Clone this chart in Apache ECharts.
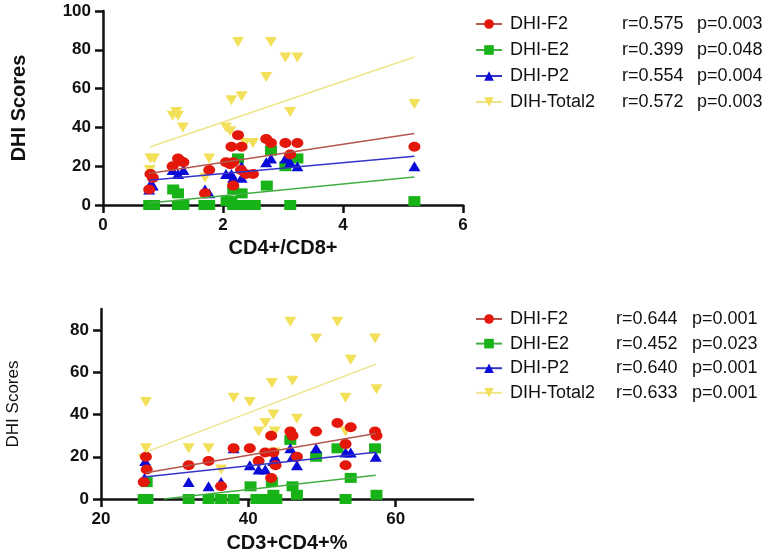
<!DOCTYPE html>
<html>
<head>
<meta charset="utf-8">
<script src="https://cdn.jsdelivr.net/npm/echarts@6/dist/echarts.min.js"></script>
<style>
  html, body { margin: 0; padding: 0; background: #fff; }
  #main { width: 767px; height: 554px; }
</style>
</head>
<body>
<div id="main"></div>
<script>
// legend names and stats
const names = ['DHI-F2', 'DHI-E2', 'DHI-P2', 'DIH-Total2'];
const topR = ['0.575', '0.399', '0.554', '0.572'];
const topP = ['0.003', '0.048', '0.004', '0.003'];
const botR = ['0.644', '0.452', '0.640', '0.633'];
const botP = ['0.001', '0.023', '0.001', '0.001'];

// tick labels
const topXTicks = [0, 2, 4, 6];
const topYTicks = [0, 20, 40, 60, 80, 100];
const botXTicks = [20, 40, 60];
const botYTicks = [0, 20, 40, 60, 80];

// top panel: CD4+/CD8+
const topF2 = [[0.77,8],[0.79,16],[0.83,14],[1.16,20],[1.25,24],[1.3,22.5],[1.34,22],[1.7,6],[1.77,18],[2.05,22],[2.12,21],[2.17,22],[2.14,30],[2.17,10],[2.25,36],[2.31,30],[2.3,18],[2.38,16],[2.5,16],[2.72,34],[2.8,32],[3.04,32],[3.12,26],[3.24,32],[5.19,30]];
const topE2 = [[0.77,0],[0.85,0],[1.17,8],[1.25,6],[1.25,0],[1.34,0],[1.69,0],[1.77,0],[2.06,2],[2.14,2],[2.17,8],[2.17,0],[2.25,24],[2.25,0],[2.31,6],[2.37,0],[2.48,0],[2.53,0],[2.73,10],[2.8,28],[3.04,20],[3.12,0],[3.24,24],[5.19,2]];
const topP2 = [[0.77,8],[0.78,10],[0.83,10],[1.16,18],[1.25,16],[1.34,18],[1.7,8],[1.77,6],[2.05,16],[2.14,16],[2.17,14],[2.31,14],[2.31,20],[2.72,22],[2.8,24],[3.04,24],[3.12,22],[3.24,20],[5.19,20]];
const topTotal = [[0.78,18],[0.79,24],[0.85,24],[1.16,46],[1.22,48],[1.25,46],[1.33,40],[1.7,14],[1.77,24],[2.05,40],[2.12,38],[2.14,54],[2.25,84],[2.31,56],[2.37,32],[2.5,32],[2.72,66],[2.8,84],[3.04,76],[3.12,48],[3.24,76],[5.19,52]];
const topFitF2 = [[0.77,16.2],[5.19,36.8]];
const topFitE2 = [[0.77,1],[5.19,14.4]];
const topFitP2 = [[0.77,12.7],[5.19,25.1]];
const topFitTotal = [[0.78,29.9],[5.19,76.3]];

// bottom panel: CD3+CD4+%
const botF2 = [[25.8,8],[26.1,20],[26.2,14],[31.9,16],[34.6,18],[36.3,6],[38,24],[40.2,24],[41.4,18],[42.3,22],[43.4,22],[43.1,30],[43.1,10],[43.7,16],[45.7,32],[46,30],[46.6,20],[49.2,32],[52.1,36],[53.2,26],[53.2,16],[53.9,34],[57.2,32],[57.4,30]];
const botE2 = [[25.8,0],[26.3,0],[26.2,8],[31.9,0],[34.6,0],[36.3,0],[38,0],[40.3,6],[41.1,0],[41.7,0],[42.3,0],[43.1,0],[43.2,8],[43.4,2],[43.8,0],[45.7,28],[46,6],[46.6,2],[49.2,20],[52.1,24],[53.2,0],[53.9,10],[57.2,24],[57.4,2]];
const botP2 = [[26,18],[25.9,10],[31.9,8],[34.6,6],[36.3,8],[38,24],[40.2,16],[41.4,14],[42.3,14],[43.4,18],[43.6,20],[45.7,24],[46,20],[46.6,16],[49.2,24],[53.2,22],[53.9,22],[57.3,20]];
const botTotal = [[25.8,19],[26.1,24],[26.1,46],[31.9,24],[34.6,24],[36.3,14],[38,48],[40.2,46],[41.4,32],[42.3,36],[43.2,55],[43.4,40],[43.6,32],[43.6,22],[45.7,84],[46,56],[46.6,38],[49.2,76],[52.1,84],[53.2,48],[53.2,32],[53.9,66],[57.2,76],[57.4,52]];
const botFitF2 = [[26.1,12.4],[57.3,31]];
const botFitE2 = [[28.5,0],[57.3,11.2]];
const botFitP2 = [[25.8,10.4],[57.3,22.2]];
const botFitTotal = [[26.1,22.2],[57.3,63.9]];

const markColors = ['#e3170a', '#17b317', '#0b0bd9', '#f3e05a'];
const lineColors = ['#b4574e', '#44ad44', '#3434c8', '#eee48a'];
const downTri = 'path://M0,0L2,0L1,2Z';
const symbols = ['circle', 'rect', 'triangle', downTri];

const chart = echarts.init(document.getElementById('main'));

const labelFont = { fontFamily: 'Liberation Sans', fontWeight: 'bold', fontSize: 17, color: '#111' };
const axisLine = { show: true, onZero: false, lineStyle: { color: '#111', width: 2.5 } };
const axisTick = (vals) => ({ show: true, length: 8, customValues: vals, lineStyle: { color: '#111', width: 2.5 } });

function fitLine(name, data, i, grid) {
  return {
    type: 'line', name: name, data: data, xAxisIndex: grid, yAxisIndex: grid,
    showSymbol: false, symbol: symbols[i], symbolSize: 10, z: 4, silent: true,
    itemStyle: { color: markColors[i] },
    lineStyle: { color: lineColors[i], width: 1.5 }
  };
}
function dots(name, data, i, grid, z) {
  return {
    type: 'scatter', name: name, data: data, xAxisIndex: grid, yAxisIndex: grid,
    symbol: symbols[i], symbolSize: [12, 10], z: z, silent: true,
    itemStyle: { color: markColors[i], opacity: 1 }
  };
}
function legend(top, gap, nW, rW, rs, ps) {
  const rich = {
    n: { width: nW, padding: [0, 0, 0, 3], fontFamily: 'Liberation Sans', fontSize: 18, color: '#111' },
    r: { width: rW, fontFamily: 'Liberation Sans', fontSize: 18, color: '#111' },
    p: { fontFamily: 'Liberation Sans', fontSize: 18, color: '#111' }
  };
  return {
    orient: 'vertical', left: 470, top: top, itemGap: gap, itemWidth: 26, itemHeight: 12,
    selectedMode: false, data: names,
    formatter: (n) => { const k = names.indexOf(n); return '{n|' + n + '}{r|r=' + rs[k] + '}{p|p=' + ps[k] + '}'; },
    textStyle: { fontSize: 18, rich: rich }
  };
}

const fitsTop = [topFitF2, topFitE2, topFitP2, topFitTotal];
const fitsBot = [botFitF2, botFitE2, botFitP2, botFitTotal];
const dotsTop = [topF2, topE2, topP2, topTotal];
const dotsBot = [botF2, botE2, botP2, botTotal];
const zOrder = [3.4, 3.2, 3.3, 3.1];

const series = [];
names.forEach((n, i) => series.push(fitLine(n, fitsTop[i], i, 0)));
names.forEach((n, i) => series.push(fitLine(n, fitsBot[i], i, 1)));
names.forEach((n, i) => series.push(dots(n, dotsTop[i], i, 0, zOrder[i])));
names.forEach((n, i) => series.push(dots(n, dotsBot[i], i, 1, zOrder[i])));

const option = {
  animation: false,
  backgroundColor: '#fff',
  grid: [
    { left: 103, top: 11, width: 360, height: 194 },
    { left: 101, top: 309, width: 372, height: 191 }
  ],
  xAxis: [
    {
      gridIndex: 0, type: 'value', min: 0, max: 6, interval: 2,
      name: 'CD4+/CD8+', nameLocation: 'middle', nameGap: 33,
      nameTextStyle: { fontFamily: 'Liberation Sans', fontWeight: 'bold', fontSize: 20, color: '#111' },
      axisLine: axisLine, axisTick: axisTick(topXTicks), splitLine: { show: false },
      axisLabel: Object.assign({ margin: 12, customValues: topXTicks }, labelFont)
    },
    {
      gridIndex: 1, type: 'value', min: 20, max: 70.5,
      name: 'CD3+CD4+%', nameLocation: 'middle', nameGap: 34,
      nameTextStyle: { fontFamily: 'Liberation Sans', fontWeight: 'bold', fontSize: 20, color: '#111' },
      axisLine: axisLine, axisTick: axisTick(botXTicks), splitLine: { show: false },
      axisLabel: Object.assign({ margin: 12, customValues: botXTicks }, labelFont)
    }
  ],
  yAxis: [
    {
      gridIndex: 0, type: 'value', min: 0, max: 100, interval: 20,
      name: 'DHI Scores', nameLocation: 'middle', nameGap: 74,
      nameTextStyle: { fontFamily: 'Liberation Sans', fontWeight: 'bold', fontSize: 20, color: '#111' },
      axisLine: axisLine, axisTick: axisTick(topYTicks), splitLine: { show: false },
      axisLabel: Object.assign({ margin: 12, customValues: topYTicks }, labelFont)
    },
    {
      gridIndex: 1, type: 'value', min: 0, max: 90,
      name: 'DHI Scores', nameLocation: 'middle', nameGap: 79,
      nameTextStyle: { fontFamily: 'Liberation Sans', fontSize: 17, color: '#111' },
      axisLine: axisLine, axisTick: axisTick(botYTicks), splitLine: { show: false },
      axisLabel: Object.assign({ margin: 12, customValues: botYTicks }, labelFont)
    }
  ],
  legend: [
    legend(10, 8, 112, 75, topR, topP),
    legend(305, 6.6, 106, 76, botR, botP)
  ],
  series: series
};

chart.setOption(option);
</script>
</body>
</html>
